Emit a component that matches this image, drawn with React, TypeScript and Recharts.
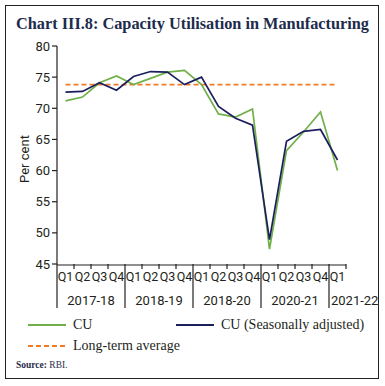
import { LineChart, Line, XAxis, YAxis } from "recharts";

const quarters = ["Q1", "Q2", "Q3", "Q4", "Q1", "Q2", "Q3", "Q4", "Q1", "Q2", "Q3", "Q4", "Q1", "Q2", "Q3", "Q4", "Q1"];
const years = ["2017-18", "2018-19", "2018-20", "2020-21", "2021-22"];
const cu = [71.2, 71.8, 74.1, 75.2, 73.8, 74.8, 75.8, 76.1, 73.8, 69.1, 68.6, 69.9, 47.4, 63.2, 66.2, 69.4, 60.0];
const cuSA = [72.6, 72.7, 74.1, 72.9, 75.1, 75.9, 75.8, 73.8, 75.0, 70.3, 68.4, 67.3, 48.9, 64.7, 66.3, 66.6, 61.7];
const longTermAvg = 73.8;
const yTicks = [45, 50, 55, 60, 65, 70, 75, 80];

const GREEN = "#6fb048";
const NAVY = "#1c1f5e";
const ORANGE = "#f07a26";
const INK = "#231f20";
const AXIS_FONT = "Roboto, 'Liberation Sans', sans-serif";
const SERIF = "'Liberation Serif', 'DejaVu Serif', serif";

const perYear = 4;

const data = quarters.map((q, i) => ({
  x: i + 0.5,
  q,
  cu: cu[i],
  sa: cuSA[i],
  avg: longTermAvg,
}));

const quarterTicks = data.map((d) => d.x);
const boundaryTicks = Array.from({ length: quarters.length + 1 }, (_, i) => i);
// full years get a centred label, a partial year is anchored at its start
const yearTicks = years.map((_, k) => {
  const count = Math.min(perYear, quarters.length - k * perYear);
  return count === perYear ? k * perYear + perYear / 2 : k * perYear;
});

const BoundaryTick = (props: any) => {
  const { x, y, payload } = props;
  const v = payload.value;
  const isSeparator = v % perYear === 0 && v < quarters.length;
  return (
    <line x1={x} y1={y} x2={x} y2={y + (isSeparator ? 44 : 5)} stroke={INK} strokeWidth={1.2} />
  );
};

const YearTick = (props: any) => {
  const { x, y, payload } = props;
  const v = payload.value;
  const k = Math.floor(v / perYear);
  const partial = v % perYear === 0;
  return (
    <text
      x={x}
      y={y}
      dx={partial ? 2 : 0}
      dy="0.71em"
      textAnchor={partial ? "start" : "middle"}
      fontSize={13}
      fontFamily={AXIS_FONT}
      fill={INK}
    >
      {years[k]}
    </text>
  );
};

const legendItems = [
  { name: "CU", color: GREEN, dash: undefined, left: 28, top: 317 },
  { name: "CU (Seasonally adjusted)", color: NAVY, dash: undefined, left: 176, top: 317 },
  { name: "Long-term average", color: ORANGE, dash: "5 3", left: 28, top: 338 },
];

export default function App() {
  return (
    <div
      style={{
        position: "absolute",
        left: 0,
        top: 0,
        width: 385,
        height: 386,
        background: "#fff",
        overflow: "hidden",
      }}
    >
      <div
        style={{
          position: "absolute",
          left: 5,
          top: 5,
          width: 374,
          height: 374,
          border: "1.5px solid #222",
          boxSizing: "border-box",
        }}
      />
      <svg width={385} height={40} style={{ position: "absolute", left: 0, top: 0 }}>
        <text
          x={16}
          y={29}
          textLength={353}
          lengthAdjust="spacingAndGlyphs"
          fontFamily={SERIF}
          fontWeight="bold"
          fontSize={17}
          fill="#1d2b4c"
        >
          Chart III.8: Capacity Utilisation in Manufacturing
        </text>
      </svg>
      <div style={{ position: "absolute", left: 0, top: 0 }}>
        <LineChart width={385} height={386} data={data} margin={{ top: 46, right: 39, bottom: 119, left: 7 }}>
          <XAxis
            xAxisId="q"
            dataKey="x"
            type="number"
            domain={[0, quarters.length]}
            ticks={quarterTicks}
            interval={0}
            tickFormatter={(v: number) => quarters[Math.floor(v)]}
            height={1}
            tickLine={false}
            tickSize={5}
            tickMargin={2}
            axisLine={{ stroke: INK, strokeWidth: 1.2 }}
            tick={{ fontSize: 12.5, fontFamily: AXIS_FONT, fill: INK }}
          />
          <XAxis
            xAxisId="b"
            dataKey="x"
            type="number"
            domain={[0, quarters.length]}
            ticks={boundaryTicks}
            interval={0}
            height={1}
            axisLine={false}
            tickLine={false}
            tickSize={0}
            tickMargin={0}
            tick={<BoundaryTick />}
          />
          <XAxis
            xAxisId="y"
            dataKey="x"
            type="number"
            domain={[0, quarters.length]}
            ticks={yearTicks}
            interval={0}
            height={1}
            axisLine={false}
            tickLine={false}
            tickSize={0}
            tickMargin={30}
            tick={<YearTick />}
          />
          <YAxis
            domain={[45, 80]}
            ticks={yTicks}
            interval={0}
            width={50}
            tickSize={5}
            tickMargin={2}
            axisLine={{ stroke: INK, strokeWidth: 1.2 }}
            tickLine={{ stroke: INK, strokeWidth: 1.2 }}
            tick={{ fontSize: 13, fontFamily: AXIS_FONT, fill: INK }}
            label={({ viewBox }: any) => (
              <text
                x={viewBox.x + 17}
                y={viewBox.y + viewBox.height / 2 + 4}
                transform={`rotate(-90, ${viewBox.x + 17}, ${viewBox.y + viewBox.height / 2 + 4})`}
                textAnchor="middle"
                dominantBaseline="central"
                fontSize={13}
                fontFamily={AXIS_FONT}
                fill={INK}
              >
                Per cent
              </text>
            )}
          />
          <Line
            xAxisId="q"
            dataKey="avg"
            stroke={ORANGE}
            strokeWidth={1.6}
            strokeDasharray="5 3"
            dot={false}
            isAnimationActive={false}
          />
          <Line xAxisId="q" dataKey="cu" stroke={GREEN} strokeWidth={1.7} dot={false} isAnimationActive={false} />
          <Line xAxisId="q" dataKey="sa" stroke={NAVY} strokeWidth={1.7} dot={false} isAnimationActive={false} />
        </LineChart>
      </div>
      {legendItems.map((item) => (
        <div
          key={item.name}
          style={{
            position: "absolute",
            left: item.left,
            top: item.top,
            display: "flex",
            alignItems: "center",
            fontFamily: SERIF,
            fontSize: 14,
            color: INK,
            whiteSpace: "nowrap",
          }}
        >
          <svg width={40} height={16}>
            <line x1={0} y1={8} x2={38} y2={8} stroke={item.color} strokeWidth={1.8} strokeDasharray={item.dash} />
          </svg>
          <span style={{ marginLeft: 5 }}>{item.name}</span>
        </div>
      ))}
      <div
        style={{
          position: "absolute",
          left: 16,
          top: 360,
          fontFamily: SERIF,
          fontSize: 9.5,
          color: "#2b2b4a",
        }}
      >
        <b>Source:</b> RBI.
      </div>
    </div>
  );
}
